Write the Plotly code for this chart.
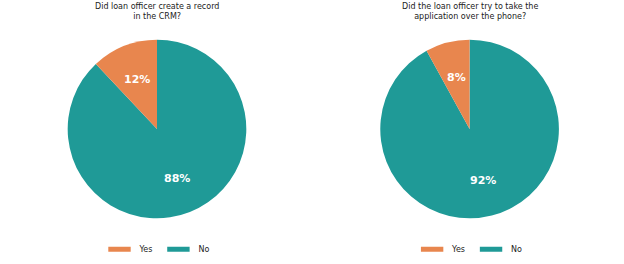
import math
import plotly.graph_objects as go

labels = ["Yes", "No"]
crm_values = [12, 88]
phone_values = [8, 92]
titles = ["Did loan officer create a record<br>in the CRM?",
          "Did the loan officer try to take the<br>application over the phone?"]
colors = ["#E8864E", "#1F9A97"]

W, H = 624, 264
font_family = "DejaVu Sans"
pctdistance = 0.6

fig = go.Figure()
domains = [dict(x=[0.1074, 0.3958], y=[0.1667, 0.8485]),
           dict(x=[0.6083, 0.8968], y=[0.1667, 0.8485])]
for i, (vals, dom) in enumerate(zip([crm_values, phone_values], domains)):
    # plotly's first slice always lies clockwise of 12 o'clock; feed reversed
    # order so "Yes" starts at 12 o'clock and runs counterclockwise (matplotlib style)
    fig.add_trace(go.Pie(
        labels=labels[::-1], values=vals[::-1], sort=False, direction="clockwise",
        rotation=0, domain=dom,
        marker=dict(colors=colors[::-1], line=dict(width=0)),
        textinfo="none", showlegend=False,
        hoverinfo="label+percent",
    ))
    cx = (dom["x"][0] + dom["x"][1]) / 2
    cy = (dom["y"][0] + dom["y"][1]) / 2
    r_px = min((dom["x"][1] - dom["x"][0]) * W, (dom["y"][1] - dom["y"][0]) * H) / 2
    total = sum(vals)
    cum = 0
    for v in vals:
        mid = (cum + v / 2) / total * 2 * math.pi  # angle from 12 o'clock, counterclockwise
        cum += v
        dx = -math.sin(mid) * r_px * pctdistance
        dy = math.cos(mid) * r_px * pctdistance
        fig.add_annotation(x=cx + dx / W, y=cy + dy / H, xref="paper", yref="paper",
                           showarrow=False, text=f"{round(v / total * 100)}%",
                           xanchor="center", yanchor="middle",
                           font=dict(family=font_family, size=11, color="white", weight="bold"))
    fig.add_annotation(x=cx, y=1.0, xref="paper", yref="paper", yanchor="top",
                       xanchor="center", showarrow=False, text=titles[i],
                       font=dict(family=font_family, size=8, color="#222"))
    for lab, col in zip(labels, colors):
        fig.add_trace(go.Scatter(
            x=[None], y=[None], mode="markers", name=lab,
            marker=dict(symbol="line-ew", size=16, color=col,
                        line=dict(color=col, width=6)),
            legend="legend" if i == 0 else "legend2", showlegend=True,
        ))

leg = dict(orientation="h", yanchor="middle", y=0.049, xanchor="center",
           font=dict(family=font_family, size=8, color="#222"),
           bgcolor="rgba(0,0,0,0)", itemwidth=30)
fig.update_layout(
    width=W, height=H, margin=dict(l=0, r=0, t=0, b=0),
    paper_bgcolor="white", plot_bgcolor="white",
    xaxis=dict(visible=False), yaxis=dict(visible=False),
    legend=dict(leg, x=0.2516),
    legend2=dict(leg, x=0.7526),
)
fig.write_html("out.html")
